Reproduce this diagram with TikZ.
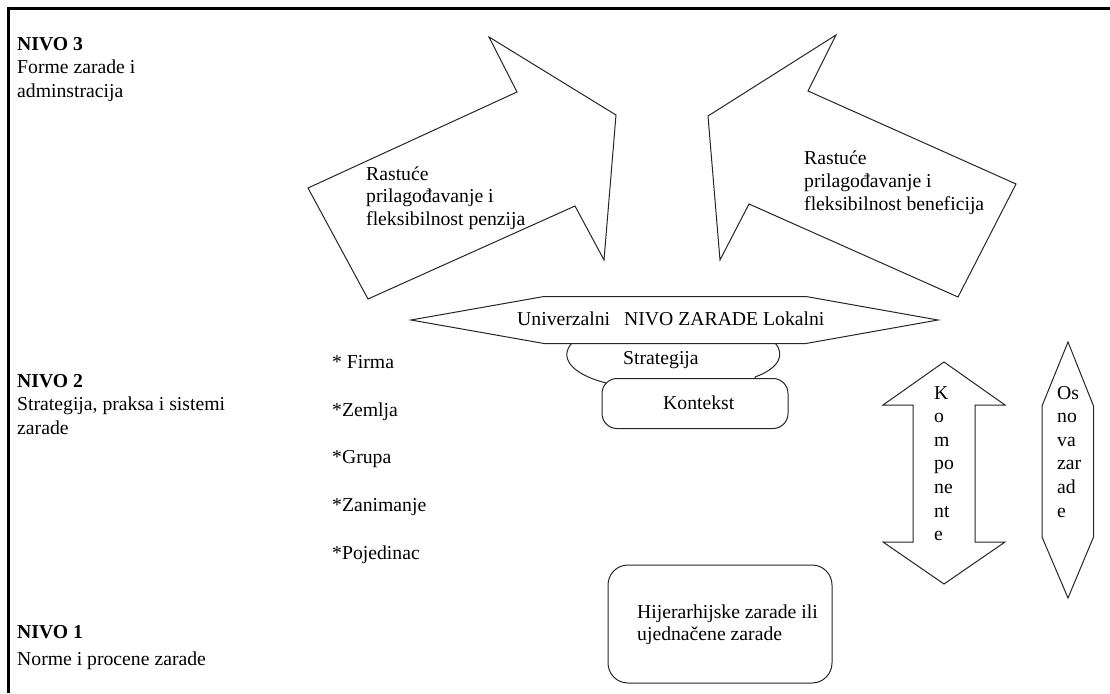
\documentclass[tikz,border=0pt]{standalone}
\usepackage{fontspec}
\setmainfont{Liberation Serif}
\begin{document}
\begin{tikzpicture}[x=1pt,y=-1pt,
  txt/.style={inner sep=0pt, anchor=base west, align=left,
    font=\fontsize{19.7}{23.4}\selectfont},
  outl/.style={draw=black!85, line width=1pt, line join=miter, fill=white},
  borderline/.style={line width=3pt, black}]
\useasboundingbox (0,0) rectangle (1110,693);

% outer frame (top and left edges)
\draw[borderline] (8,693) -- (8,8.5) -- (1110,8.5);

% large arrow pointing up-right
\draw[outl] (308,188) -- (517,92) -- (489,37) -- (616,115) -- (604,260)
  -- (575,206) -- (368,299) -- cycle;
% large arrow pointing up-left
\draw[outl] (836,35) -- (708,116) -- (720,260) -- (749,204) -- (958,297)
  -- (1016,184) -- (808,91) -- cycle;

% strategy blob, partly hidden by the level bar and the context box
\draw[outl] (572,343) .. controls (560,356) and (568,373) .. (606,383)
  -- (606,400) -- (755,400) -- (755,377)
  .. controls (780,368) and (785,354) .. (775,343) -- cycle;

% pay level bar
\draw[outl] (411,320) -- (544,296.5) -- (806,296.5) -- (938,320)
  -- (806,343.5) -- (544,343.5) -- cycle;

% context box
\draw[outl, rounded corners=15pt] (602,378.5) rectangle (788,428.5);

% components double arrow
\draw[outl] (944,362) -- (1005,405) -- (975,405) -- (975,542) -- (1005,542)
  -- (944,584) -- (883,542) -- (913,542) -- (913,405) -- (883,405) -- cycle;

% pay basis elongated hexagon
\draw[outl] (1068,342) -- (1093.5,406) -- (1093.5,537) -- (1068,598)
  -- (1042,537) -- (1042,406) -- cycle;

% hierarchy box
\draw[outl, rounded corners=20pt] (608,565) rectangle (832,683);

% level labels on the left (anchored at the baseline of their last line)
\node[txt] (n3) at (17,97) {\textbf{NIVO 3}\\Forme zarade i\\adminstracija};
\node[txt] (n2) at (17,434) {\textbf{NIVO 2}\\Strategija, praksa i sistemi\\zarade};
\node[txt] (n1) at (17,665) {\textbf{NIVO 1}\\[3pt]Norme i procene zarade};

% list of units
\node[txt, font=\fontsize{19.7}{47.6}\selectfont] (units) at (332,559)
  {* Firma\\*Zemlja\\*Grupa\\*Zanimanje\\*Pojedinac};

% arrow captions
\node[txt, font=\fontsize{19.7}{22.5}\selectfont] (penz) at (366,225)
  {Rastuće\\prilagođavanje i\\fleksibilnost penzija};
\node[txt, font=\fontsize{19.7}{23.3}\selectfont] (bene) at (804,210.7)
  {Rastuće\\prilagođavanje i\\fleksibilnost beneficija};

% bar, strategy and context captions
\node[txt] (level) at (517,325) {Univerzalni\hspace{14pt}NIVO ZARADE Lokalni};
\node[txt] (strat) at (623,364) {Strategija};
\node[txt] (kont) at (663,409) {Kontekst};

% vertical captions
\node[txt, font=\fontsize{19.7}{23.6}\selectfont] (komp) at (934,540.6)
  {K\\o\\m\\po\\ne\\nt\\e};
\node[txt, font=\fontsize{19.7}{23.6}\selectfont] (osn) at (1057,517)
  {Os\\no\\va\\zar\\ad\\e};

% hierarchy caption
\node[txt, font=\fontsize{19.7}{22.3}\selectfont] (hij) at (637,640.8)
  {Hijerarhijske zarade ili\\ujednačene zarade};
\end{tikzpicture}
\end{document}
